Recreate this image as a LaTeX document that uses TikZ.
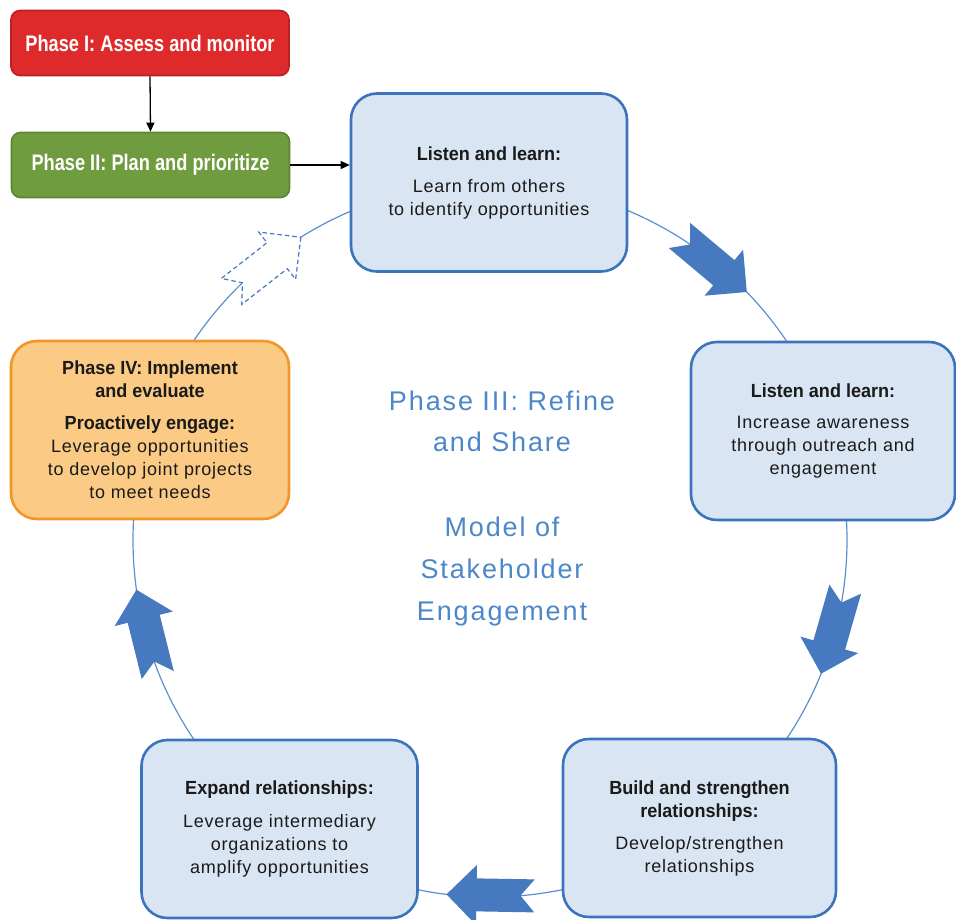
\documentclass[tikz,border=0pt]{standalone}
\usepackage{fontspec}
\setmainfont{Liberation Sans}
\newfontfamily\bodyfont{Liberation Sans}[LetterSpace=4]
\newfontfamily\headfont{Liberation Sans}[FakeStretch=0.95]
\newfontfamily\phasefont{Liberation Sans}[FakeStretch=0.81]
\newfontfamily\titlefont{Liberation Sans}[LetterSpace=7]
\usetikzlibrary{arrows.meta}

\definecolor{redfill}{HTML}{DF2A2B}
\definecolor{redline}{HTML}{BC2023}
\definecolor{greenfill}{HTML}{6F9C3F}
\definecolor{greenline}{HTML}{5C8433}
\definecolor{bluefill}{HTML}{D9E5F3}
\definecolor{blueline}{HTML}{3B74BC}
\definecolor{orangefill}{HTML}{FBCB85}
\definecolor{orangeline}{HTML}{F2962A}
\definecolor{arrowblue}{HTML}{4679C0}
\definecolor{ringblue}{HTML}{5B8FD0}
\definecolor{titleblue}{HTML}{4B87C9}
\definecolor{textdark}{HTML}{1A1A1A}

\newcommand{\hd}[1]{{\headfont\bfseries\fontsize{19}{23}\selectfont #1}}

\tikzset{
  phasebox/.style={rectangle, rounded corners=9pt, line width=1.6pt,
    minimum width=278pt, minimum height=65pt, inner sep=0pt,
    text=white, font={\phasefont\bfseries\fontsize{22.5}{26}\selectfont}},
  stagebox/.style={rectangle, rounded corners=26pt, line width=2.6pt,
    draw=blueline, fill=bluefill, inner sep=0pt, align=center,
    minimum width=276pt, minimum height=178pt, text=textdark,
    font={\bodyfont\fontsize{18}{23}\selectfont}},
  titletext/.style={text=titleblue, align=center, inner sep=0pt},
  link/.style={draw=black, line width=1.3pt, -{Triangle[length=9pt,width=8pt]}},
  ring/.style={draw=ringblue, line width=1.2pt},
  blockarrow/.pic={
    \path[pic actions] (0,0) -- (-30,30) -- (-30,16.5) -- (-88,16.5)
      -- (-74,0) -- (-88,-16.5) -- (-30,-16.5) -- (-30,-30) -- cycle;
  }
}

\begin{document}
\begin{tikzpicture}[x=1pt,y=-1pt]
\useasboundingbox (0,0) rectangle (956,920);

% the cycle ring
\coordinate (hub) at (490,540);
\draw[ring] (hub) circle[radius=357pt];

% solid block arrows sitting on the ring, pointing clockwise
\foreach \ang in {44,-22,-97,188}{
  \pic[shift={(hub)}, rotate=\ang, xshift=357pt, rotate=-84,
       fill=arrowblue, draw=none] {blockarrow};
}
% outlined arrow closing the loop
\pic[shift={(hub)}, rotate=122, xshift=357pt, rotate=-84,
     fill=white, draw=arrowblue, line width=1.2pt,
     dash pattern=on 4.5pt off 3pt, line join=miter] {blockarrow};

% phase boxes on the left
\node[phasebox, fill=redfill, draw=redline] (assess) at (150,43)
  {Phase I: Assess and monitor};
\node[phasebox, fill=greenfill, draw=greenline] (plan) at (150.5,165)
  {Phase II: Plan and prioritize};

% stages of the cycle
\node[stagebox] (listen) at (489,182.5)
  {\hd{Listen and learn:}\\[9pt] Learn from others\\ to identify opportunities};
\node[stagebox, minimum width=264pt] (aware) at (823,431)
  {\hd{Listen and learn:}\\[8pt] Increase awareness\\ through outreach and\\ engagement};
\node[stagebox, minimum width=273pt] (build) at (699.5,828)
  {\hd{Build and strengthen}\\ \hd{relationships:}\\[9pt] Develop/strengthen\\ relationships};
\node[stagebox] (expand) at (279.5,829)
  {\hd{Expand relationships:}\\[10pt] Leverage intermediary\\ organizations to\\ amplify opportunities};
\node[stagebox, draw=orangeline, fill=orangefill, minimum width=278pt] (engage) at (150,430)
  {\hd{Phase IV: Implement}\\ \hd{and evaluate}\\[9pt] \hd{Proactively engage:}\\ Leverage opportunities\\ to develop joint projects\\ to meet needs};

% centre title
\node[titletext, font={\titlefont\fontsize{27}{41}\selectfont}] (title) at (502,421)
  {Phase III: Refine\\ and Share};
\node[titletext, font={\titlefont\fontsize{27}{42}\selectfont}] (model) at (502,572)
  {Model of\\ Stakeholder\\ Engagement};

% connectors between the phase boxes
\draw[link] (assess.south) -- (plan.north);
\draw[link] (plan.east) -- (plan.east -| listen.west);
\end{tikzpicture}
\end{document}
